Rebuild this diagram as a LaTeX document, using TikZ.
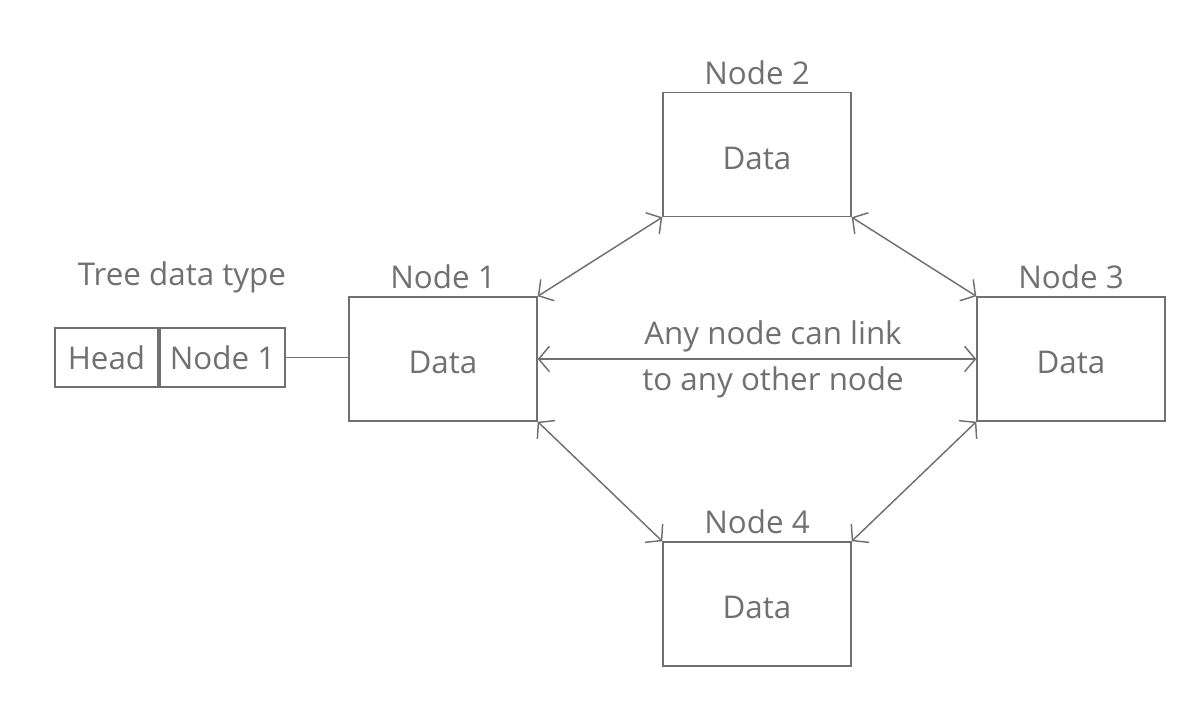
\documentclass[tikz,border=0pt]{standalone}
\usepackage{fontspec}
\setmainfont{Open Sans}
\usetikzlibrary{arrows.meta}
\definecolor{ink}{HTML}{707070}
\newcommand{\lowdata}{\raisebox{-2.5pt}[\height][0pt]{Data}}
\begin{document}
\begin{tikzpicture}[x=0.75pt,y=-0.75pt,
  every node/.style={text=ink,font=\fontsize{23.5}{28}\selectfont},
  box/.style={draw=ink,line width=1.1pt,inner sep=0pt,minimum width=141pt,minimum height=93pt},
  cell/.style={draw=ink,line width=1.1pt,inner sep=0pt,minimum height=44.25pt},
  link/.style={draw=ink,line width=1.1pt,{Straight Barb[length=8pt,width=19pt]}-{Straight Barb[length=8pt,width=19pt]}},
  plain/.style={draw=ink,line width=1.1pt}]
\useasboundingbox (0,0) rectangle (1193,709);
\node[box] (n1) at (443,359) {\lowdata};
\node[box] (n2) at (757,154.5) {\lowdata};
\node[box] (n3) at (1071,359) {\lowdata};
\node[box] (n4) at (757,604) {\lowdata};
\node (l1) at (443,277) {Node 1};
\node (l2) at (757,73) {Node 2};
\node (l3) at (1071,277) {Node 3};
\node (l4) at (757,522) {Node 4};
\node (tt) at (182,277) {Tree data type};
\node[cell,minimum width=77.25pt] (hd) at (106.5,357.5) {Head};
\node[cell,minimum width=93.75pt] (hn) at (222.5,357.5) {Node 1};
\draw[plain] (hn.east) -- (hn.east -| n1.west);
\draw[link] (n1.north east) -- (n2.south west);
\draw[link] (n2.south east) -- (n3.north west);
\draw[link] (n1.east) -- (n3.west);
\draw[link] (n1.south east) -- (n4.north west);
\draw[link] (n3.south west) -- (n4.north east);
\node (t1) at (773,336) {Any node can link};
\node (t2) at (773,382) {to any other node};
\end{tikzpicture}
\end{document}
